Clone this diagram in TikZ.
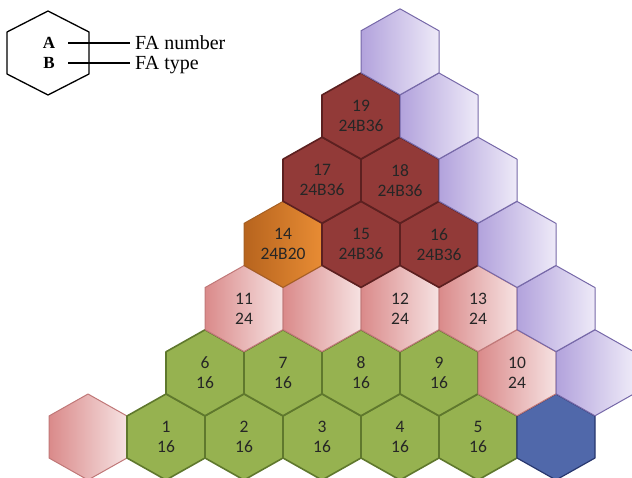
\documentclass[tikz,border=0pt]{standalone}
\usepackage{fontspec}
\setmainfont{Liberation Serif}
\newfontfamily\hexfont{Carlito}
\usetikzlibrary{calc}
\definecolor{gfill}{RGB}{150,178,80}
\definecolor{gline}{RGB}{95,120,45}
\definecolor{rfill}{RGB}{146,58,56}
\definecolor{rline}{RGB}{92,32,32}
\definecolor{oleft}{RGB}{183,100,30}
\definecolor{oright}{RGB}{232,140,52}
\definecolor{oline}{RGB}{165,95,35}
\definecolor{pleft}{RGB}{218,138,138}
\definecolor{pright}{RGB}{246,226,226}
\definecolor{pline}{RGB}{192,120,120}
\definecolor{vleft}{RGB}{178,162,220}
\definecolor{vright}{RGB}{238,234,248}
\definecolor{vline}{RGB}{118,104,168}
\definecolor{bfill}{RGB}{80,104,170}
\definecolor{bline}{RGB}{40,55,110}
\tikzset{
  greenhex/.style={fill=gfill,draw=gline,line width=1.6pt,line join=round},
  redhex/.style={fill=rfill,draw=rline,line width=1.6pt,line join=round},
  orangehex/.style={left color=oleft,right color=oright,draw=oline,line width=1pt,line join=round},
  pinkhex/.style={left color=pleft,right color=pright,draw=pline,line width=1pt,line join=round},
  purplehex/.style={left color=vleft,right color=vright,draw=vline,line width=1pt,line join=round},
  bluehex/.style={fill=bfill,draw=bline,line width=1.2pt,line join=round},
  hextext/.style={align=center,inner sep=0pt,text=black!85,font=\hexfont\fontsize{17.5}{20}\selectfont},
  legtext/.style={anchor=base west,inner sep=0pt,font=\fontsize{20}{22}\selectfont},
  legletter/.style={inner sep=0pt,font=\bfseries\fontsize{17}{20}\selectfont}
}
\newcommand{\hexcell}[4]{%
  \path[#4] (#2,#3) ++(0,-43) -- ++(39,22) -- ++(0,42) -- ++(-39,22) -- ++(-39,-22) -- ++(0,-42) -- cycle;
  \coordinate (#1) at (#2,#3);
}
\begin{document}
\begin{tikzpicture}[x=1pt,y=-1pt]
\useasboundingbox (0,0) rectangle (632,478);
% legend
\path[draw=black,line width=1.3pt,line join=round] (48,53) ++(0,-42) -- ++(41,21) -- ++(0,42) -- ++(-41,21) -- ++(-41,-21) -- ++(0,-42) -- cycle;
\node[legletter] (la) at (49,43) {A};
\node[legletter] (lb) at (49,63) {B};
\coordinate (las) at (68,43);
\coordinate (lbs) at (68,63);
\coordinate (lae) at (130,43);
\coordinate (lbe) at (130,63);
\node[legtext] (fan) at (135,50) {FA number};
\node[legtext] (fat) at (135,70) {FA type};
\draw[line width=1.3pt] (las) -- (lae);
\draw[line width=1.3pt] (lbs) -- (lbe);
% row 1
\hexcell{p1}{88}{437}{pinkhex}
\hexcell{h1}{166}{437}{greenhex}
\hexcell{h2}{244}{437}{greenhex}
\hexcell{h3}{322}{437}{greenhex}
\hexcell{h4}{400}{437}{greenhex}
\hexcell{h5}{478}{437}{greenhex}
\hexcell{b1}{556}{437}{bluehex}
% row 2
\hexcell{h6}{205}{372.8}{greenhex}
\hexcell{h7}{283}{372.8}{greenhex}
\hexcell{h8}{361}{372.8}{greenhex}
\hexcell{h9}{439}{372.8}{greenhex}
\hexcell{h10}{517}{372.8}{pinkhex}
\hexcell{v2}{595}{372.8}{purplehex}
% row 3
\hexcell{h11}{244}{308.6}{pinkhex}
\hexcell{p3}{322}{308.6}{pinkhex}
\hexcell{h12}{400}{308.6}{pinkhex}
\hexcell{h13}{478}{308.6}{pinkhex}
\hexcell{v3}{556}{308.6}{purplehex}
% row 4
\hexcell{h14}{283}{244.4}{orangehex}
\hexcell{h15}{361}{244.4}{redhex}
\hexcell{h16}{439}{244.4}{redhex}
\hexcell{v4}{517}{244.4}{purplehex}
% row 5
\hexcell{h17}{322}{180.2}{redhex}
\hexcell{h18}{400}{180.2}{redhex}
\hexcell{v5}{478}{180.2}{purplehex}
% row 6
\hexcell{h19}{361}{116}{redhex}
\hexcell{v6}{439}{116}{purplehex}
% row 7
\hexcell{v7}{400}{51.8}{purplehex}
% labels
\node[hextext] (t1) at (h1) {1\\16};
\node[hextext] (t2) at (h2) {2\\16};
\node[hextext] (t3) at (h3) {3\\16};
\node[hextext] (t4) at (h4) {4\\16};
\node[hextext] (t5) at (h5) {5\\16};
\node[hextext] (t6) at (h6) {6\\16};
\node[hextext] (t7) at (h7) {7\\16};
\node[hextext] (t8) at (h8) {8\\16};
\node[hextext] (t9) at (h9) {9\\16};
\node[hextext] (t10) at (h10) {10\\24};
\node[hextext] (t11) at (h11) {11\\24};
\node[hextext] (t12) at (h12) {12\\24};
\node[hextext] (t13) at (h13) {13\\24};
\node[hextext] (t14) at (h14) {14\\24B20};
\node[hextext] (t15) at (h15) {15\\24B36};
\node[hextext] (t16) at (h16) {16\\24B36};
\node[hextext] (t17) at (h17) {17\\24B36};
\node[hextext] (t18) at (h18) {18\\24B36};
\node[hextext] (t19) at (h19) {19\\24B36};
\end{tikzpicture}
\end{document}
